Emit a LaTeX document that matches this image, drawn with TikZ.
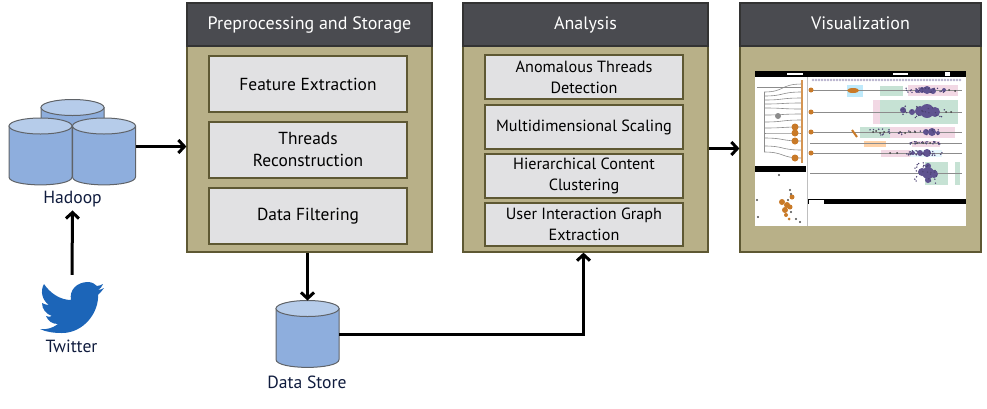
\documentclass[tikz,border=0pt]{standalone}
\usepackage{fontspec}
\setmainfont{PT Sans}
\usetikzlibrary{arrows.meta}
\definecolor{panelfill}{HTML}{B8B088}
\definecolor{paneledge}{HTML}{5E5833}
\definecolor{headfill}{HTML}{4A4B50}
\definecolor{boxfill}{HTML}{E1E1E3}
\definecolor{cylbody}{HTML}{8EAEDD}
\definecolor{cyltop}{HTML}{B6CCEA}
\definecolor{cyledge}{HTML}{5F6368}
\definecolor{labelcol}{HTML}{101C3E}
\definecolor{birdblue}{HTML}{1C65B8}
\definecolor{lilac}{HTML}{5F5390}
\definecolor{bandgreen}{HTML}{C6E2D4}
\definecolor{bandpink}{HTML}{F2D8E4}
\definecolor{blobor}{HTML}{C97A28}
\tikzset{
  panel/.style={draw=paneledge,line width=1.2pt,fill=panelfill,minimum width=245pt,minimum height=249pt},
  header/.style={draw=black!80,line width=1.2pt,fill=headfill,text=white,minimum width=245pt,minimum height=43pt,text height=12pt,text depth=3pt,font=\fontsize{18}{20}\selectfont},
  innerbox/.style={draw=paneledge,line width=1.2pt,fill=boxfill,minimum width=198pt,align=center,font=\fontsize{16.2}{21}\selectfont},
  bigbox/.style={innerbox,minimum height=56pt,font=\fontsize{17.4}{22}\selectfont},
  cyl/.style={line width=1pt,draw=cyledge},
  dbbox/.style={minimum width=63pt,minimum height=67pt,inner sep=0pt,outer sep=0pt},
  caption/.style={text=labelcol,font=\fontsize{17.6}{20}\selectfont},
  link/.style={->,line width=3pt,>={Straight Barb[length=6pt,width=13pt]}}
}
% named box with a drum drawn in it
\newcommand{\drum}[3]{
  \node[dbbox] (#1) at (#2,#3) {};
  \begin{scope}[shift={(#1.center)}]
    \draw[cyl,fill=cylbody] (-31.5,-25.5) -- (-31.5,25.5) .. controls (-31.5,36) and (31.5,36) .. (31.5,25.5) -- (31.5,-25.5) -- cycle;
    \draw[cyl,fill=cyltop] (0,-25.5) ellipse (31.5pt and 8pt);
  \end{scope}
}
\begin{document}
\begin{tikzpicture}[x=1pt,y=-1pt]
  \useasboundingbox (0,0) rectangle (987,408);
  % sources
  \drum{back}{72.5}{133}
  \drum{left}{40.5}{151.5}
  \drum{right}{104}{151.5}
  \node[caption] (hadoop) at (72.5,199) {Hadoop};
  \node[minimum width=64pt,minimum height=51pt,inner sep=0pt] (bird) at (72,307.5) {};
  \fill[birdblue] (88,282) .. controls (92,282) and (95,284) .. (97,286)
    .. controls (99,286) and (101,285) .. (103,284) .. controls (102,287) and (100,289) .. (98,290)
    .. controls (100,290) and (102,289) .. (104,288) .. controls (102,291) and (100,293) .. (98,295)
    .. controls (99,312) and (84,333) .. (62,333) .. controls (54,333) and (46,332) .. (40,329)
    .. controls (46,330) and (53,328) .. (58,324) .. controls (52,324) and (48,321) .. (46,316)
    .. controls (48,317) and (50,317) .. (52,316) .. controls (46,314) and (42,309) .. (42,303)
    .. controls (44,304) and (46,305) .. (49,305) .. controls (42,300) and (40,291) .. (44,284)
    .. controls (50,293) and (60,300) .. (71,300) .. controls (69,290) and (77,282) .. (88,282) -- cycle;
  \node[caption] (twitter) at (71.5,346) {Twitter};
  % panels
  \node[panel] (prep) at (309.5,127.5) {};
  \node[header] (prephead) at (309.5,24.5) {Preprocessing and Storage};
  \node[bigbox] (feat) at (308,84) {Feature Extraction};
  \node[bigbox] (thread) at (308,150) {Threads\\Reconstruction};
  \node[bigbox] (filter) at (308,216) {Data Filtering};
  \node[panel] (analysis) at (585.5,127.5) {};
  \node[header] (analysishead) at (585.5,24.5) {Analysis};
  \node[innerbox,minimum height=44pt] (anom) at (584,77) {Anomalous Threads\\Detection};
  \node[innerbox,minimum height=44pt] (mds) at (584,127) {Multidimensional Scaling};
  \node[innerbox,minimum height=44pt] (clust) at (584,176) {Hierarchical Content\\Clustering};
  \node[innerbox,minimum height=43pt] (graph) at (584,224.5) {User Interaction Graph\\Extraction};
  \node[panel,minimum width=241pt] (viz) at (860.5,127.5) {};
  \node[header,minimum width=241pt] (vizhead) at (860.5,24.5) {Visualization};
  % data store
  \drum{store}{307.5}{334}
  \node[caption] (storelabel) at (307,382) {Data Store};
  % screenshot
  \node[fill=white,minimum width=211pt,minimum height=155pt,inner sep=0pt] (shot) at (860.5,148.5) {};
  \fill[black] (755,71) rectangle (966,77);
  \fill[black] (755,166) rectangle (806,172);
  \fill[black] (808,199) rectangle (966,204);
  \fill[white] (809,200) rectangle (824,204);
  \fill[white] (787,72.5) rectangle (803,74.5);
  \fill[white] (893,72.5) rectangle (908,74.5);
  \fill[white] (945,72) rectangle (950,76);
  \draw[black!25,line width=1pt] (807,77) -- (807,226);
  \foreach \x in {813,816,...,961} \fill[lilac!45] (\x,80) circle (1.4pt);
  % bands
  \foreach \a/\b/\c/\d/\col in {847/85/863/97/cyan!25,880/86/903/96/bandgreen,908/85/937/96/bandpink,937/85/958/96/bandpink,
    873/100/880/124/bandpink,880/100/958/124/bandgreen,
    860/127/895/138/bandgreen,890/127/948/138/bandpink,948/127/955/138/bandpink,
    864/141/886/147/orange!35,912/141/940/147/bandpink,
    881/150/910/157/bandpink,910/150/942/157/cyan!10,
    925/162/948/185/bandgreen,955/162/960/185/bandgreen}
    \fill[\col] (\a,\b) rectangle (\c,\d);
  \foreach \h in {90,112,132,143,153,173} \draw[black!45,line width=0.7pt] (810,\h) -- (962,\h);
  \foreach \x/\h in {811/90,811/112,811/132,811/153} \fill[blobor] (\x,\h) circle (2.5pt);
  \fill[blobor] (853,90.5) ellipse (6pt and 2.5pt);
  \draw[blobor,line width=2pt] (852,130) -- (857,137);
  % purple clusters
  \foreach \x/\h/\r in {927/90/4,922/90/3,933/91/3,917/91/2,944/90/2,
    927/111/7,920/111/5,935/112/5,912/112/3,903/110/3,
    932/132/4,926/132/3,938/133/2,
    927/153/4,920/153/3,913/153/2,
    928/173/6,922/172/4,934/174/4,928/180/3,928/166/3}
    \fill[lilac] (\x,\h) circle (\r pt);
  \pgfmathsetseed{7}
  \foreach \x/\h/\w/\t in {925/90/40/5,925/112/50/12,905/132/70/6,925/153/40/5,925/173/25/22,925/143/30/3}
    \foreach \i in {1,...,25}
      \fill[lilac!80!black] ({\x+\w*(rnd-0.5)},{\h+\t*(rnd-0.5)}) circle (0.8pt);
  \foreach \x/\h in {873/132,876/131,880/133,884/132,900/132,905/133,910/132,915/132,897/153,890/153,917/143,923/143,930/143,946/112,951/112,949/90,955/91}
    \fill[black!75] (\x,\h) circle (1pt);
  % tree
  \draw[black!45,line width=0.6pt] (757,87) -- (802,87);
  \foreach \h/\b in {84/92,92/96,98/100,103/104,109/108,114/115,120/122,127/128,133/133,141/138,150/146,158/152}
    \draw[black!45,line width=0.6pt] (764,\b) .. controls (785,\b) and (780,\h) .. (802,\h);
  \draw[black!45,line width=0.6pt] (764,92) -- (764,152);
  \fill[blobor!80] (801,80) rectangle (803,163);
  \foreach \h in {127,133,141,158} \fill[blobor] (795,\h) circle (3.5pt);
  \fill[black!45] (778,116) circle (3pt);
  % scatter
  \foreach \x/\h/\r in {782/202/3,787/205/3,785/210/3,790/207/2.5,786/215/2,792/197/2.5,789/219/1.5}
    \fill[blobor] (\x,\h) circle (\r pt);
  \foreach \x/\h in {790/190,791/194,788/200,791/212,796/219,757/200,758/217,779/175,800/222}
    \fill[black!70] (\x,\h) circle (1.2pt);
  % connectors
  \draw [link] ([yshift=5pt]right.east) -- ([yshift=5pt]right.east -| prep.west);
  \draw [link] (bird.north) ++(0,-7) -- (hadoop.south);
  \draw [link] (prep.south -| store.north) -- (store.north);
  \draw [link] (store.east) -| ([xshift=-2pt]analysis.south);
  \draw [link] ([yshift=-21pt]analysis.east) -- ([yshift=-21pt]viz.west);
\end{tikzpicture}
\end{document}
